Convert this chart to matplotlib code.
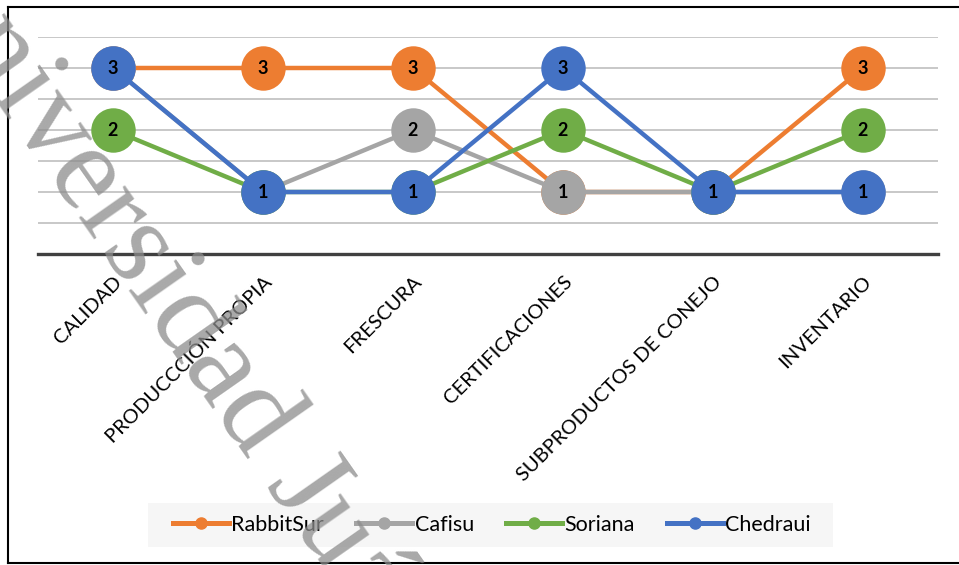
import matplotlib
matplotlib.use("Agg")
import matplotlib.pyplot as plt
from matplotlib.lines import Line2D
from matplotlib.patches import Rectangle
from matplotlib.transforms import ScaledTranslation

# valores (1 = peor, 3 = mejor)
categorias = ["CALIDAD", "PRODUCCCIÓN PROPIA", "FRESCURA", "CERTIFICACIONES",
              "SUBPRODUCTOS DE CONEJO", "INVENTARIO"]
rabbitsur = [3, 3, 3, 1, 1, 3]
cafisu    = [3, 1, 2, 1, 1, 1]
soriana   = [2, 1, 1, 2, 1, 2]
chedraui  = [3, 1, 1, 3, 1, 1]

nombres = ["RabbitSur", "Cafisu", "Soriana", "Chedraui"]
colores = ["#ed7d31", "#a5a5a5", "#70ad47", "#4472c4"]
valores = [rabbitsur, cafisu, soriana, chedraui]

W, H = 959, 565
fig = plt.figure(figsize=(W / 100, H / 100), dpi=100)
ax = fig.add_axes([38 / W, 1 - 254 / H, 900 / W, (254 - 37) / H])
ax.set_facecolor("none")

x = list(range(len(categorias)))
for i, (nom, vals, col) in enumerate(zip(nombres, valores, colores)):
    z = 3 + 2 * i
    ax.plot(x, vals, color=col, lw=3.2, marker="o", ms=32, mew=0,
            solid_capstyle="round", zorder=z, label=nom, clip_on=False)
    for xi, v in zip(x, vals):
        ax.text(xi, v, str(v), ha="center", va="center", fontsize=13,
                fontweight="bold", family="Lato", color="black", zorder=z + 1)

ax.set_xlim(-0.5, 5.5)
ax.set_ylim(0, 3.5)
ax.set_yticks([0.5, 1, 1.5, 2, 2.5, 3, 3.5])
ax.set_yticklabels([])
ax.tick_params(axis="y", length=0)
ax.grid(axis="y", color="#c8c8c8", lw=1.4, zorder=0)
for s in ["top", "left", "right"]:
    ax.spines[s].set_visible(False)
ax.spines["bottom"].set_color("#404040")
ax.spines["bottom"].set_linewidth(2.4)

ax.set_xticks(x)
ax.set_xticklabels(categorias, rotation=45, ha="right", va="center",
                   rotation_mode="anchor", fontsize=14.5, family="Lato")
ax.tick_params(axis="x", length=0, pad=18)
for lbl in ax.get_xticklabels():
    lbl.set_transform(lbl.get_transform() + ScaledTranslation(0.06, 0, fig.dpi_scale_trans))

# fondo de la leyenda (mas ancho que el marco propio de matplotlib)
fig.add_artist(Rectangle((148 / W, 1 - 547 / H), (833 - 148) / W, 44 / H,
                         transform=fig.transFigure, facecolor="#f6f6f6",
                         edgecolor="none", zorder=1))
handles = [Line2D([], [], color=c, lw=3.6, marker="o", ms=8) for c in colores]
leg = fig.legend(handles, nombres, loc="center", bbox_to_anchor=(492 / W, 1 - 525 / H),
                 ncol=4, frameon=False, handlelength=2.6,
                 handletextpad=0.1, columnspacing=1.5, borderpad=0.55,
                 borderaxespad=0, prop={"family": "Lato", "size": 15.5})
leg.set_zorder(2)

# marco del grafico
for xs, ys in [([8, W], [7, 7]), ([8, 8], [7, 563]), ([8, W], [563, 563])]:
    fig.add_artist(Line2D([v / W for v in xs], [1 - v / H for v in ys],
                          color="black", lw=1.5))

# marca de agua
fig.text(-95 / W, 1 + 30 / H, "Universidad Juárez", rotation=-55,
         rotation_mode="anchor", ha="left", va="baseline", fontsize=88,
         family="Liberation Serif", color="#8c8c8c", alpha=0.75, zorder=20)

fig.savefig("out.png", dpi=100)
